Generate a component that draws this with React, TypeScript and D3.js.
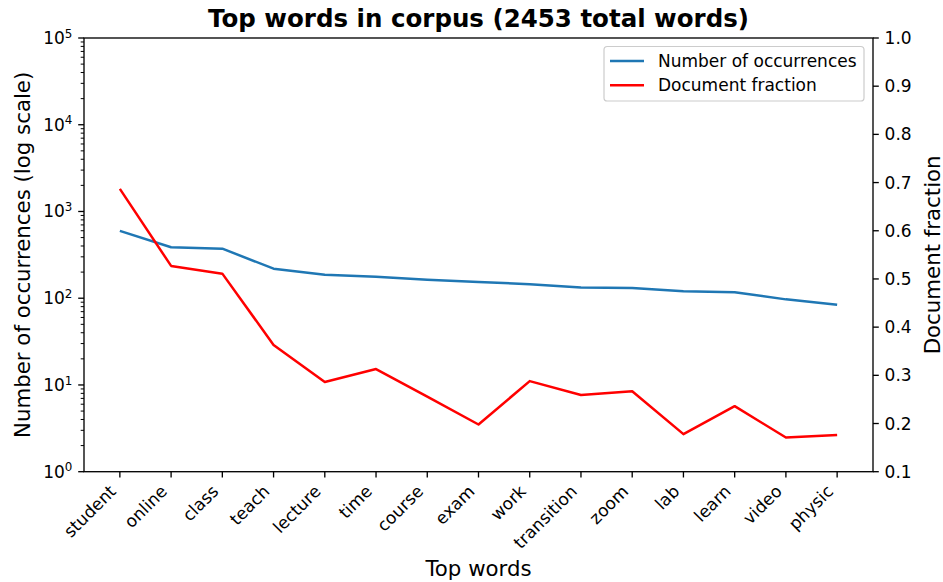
import React from "react";
import * as d3 from "d3";

// Top words and their statistics
const words = [
  "student", "online", "class", "teach", "lecture", "time", "course", "exam",
  "work", "transition", "zoom", "lab", "learn", "video", "physic",
];
const occurrences = [597, 387, 373, 219, 187, 177, 163, 154, 145, 133, 131, 120, 117, 97, 84];
const docFraction = [
  0.687, 0.527, 0.511, 0.363, 0.286, 0.313, 0.256, 0.198, 0.288, 0.259, 0.267,
  0.178, 0.236, 0.171, 0.176,
];
const logExponents = [0, 1, 2, 3, 4, 5];
const fractionTicks = [0.1, 0.2, 0.3, 0.4, 0.5, 0.6, 0.7, 0.8, 0.9, 1.0];
const totalWords = 2453;

const W = 943;
const H = 582;
const L = 84;
const R = 873;
const T = 38;
const B = 471.7;

const FONT = "'DejaVu Sans', sans-serif";
const TICK_FS = 17;
const LABEL_FS = 21.3;
const TITLE_FS = 24.5;
const TICK_LEN = 5.8;
const TICK_PAD = 5.8;
const BLUE = "#1f77b4";
const RED = "#ff0000";

export default function App() {
  const x = d3.scaleLinear().domain([-0.7, words.length - 1 + 0.7]).range([L, R]);
  const yLog = d3.scaleLog().domain([1, 1e5]).range([B, T]);
  const yFrac = d3.scaleLinear().domain([0.1, 1.0]).range([B, T]);

  const occLine = d3
    .line<number>()
    .x((_, i) => x(i))
    .y((d) => yLog(d));
  const fracLine = d3
    .line<number>()
    .x((_, i) => x(i))
    .y((d) => yFrac(d));

  const minorTicks: number[] = [];
  for (let e = 0; e < 5; e++) {
    for (let k = 2; k <= 9; k++) minorTicks.push(k * Math.pow(10, e));
  }

  // rotated category labels: anchor so the rotated bbox's top-right sits under the tick
  const asc = 0.76 * TICK_FS;
  const desc = 0.236 * TICK_FS;
  const labelY = B + TICK_LEN + TICK_PAD + 0.7071 * asc;
  const midY = (T + B) / 2;

  return (
    <svg
      width={W}
      height={H}
      style={{ position: "absolute", left: 0, top: 0, background: "#fff" }}
      fontFamily={FONT}
    >
      <rect x={0} y={0} width={W} height={H} fill="#fff" />

      {/* title */}
      <text
        x={(L + R) / 2}
        y={27}
        textAnchor="middle"
        fontSize={TITLE_FS}
        fontWeight="bold"
        fill="#000"
      >
        {`Top words in corpus (${totalWords} total words)`}
      </text>

      {/* series */}
      <path d={occLine(occurrences) || ""} fill="none" stroke={BLUE} strokeWidth={2.5} strokeLinejoin="round" />
      <path d={fracLine(docFraction) || ""} fill="none" stroke={RED} strokeWidth={2.5} strokeLinejoin="round" />

      {/* spines */}
      <rect x={L} y={T} width={R - L} height={B - T} fill="none" stroke="#000" strokeWidth={1.33} />

      {/* x ticks */}
      {words.map((w, i) => {
        const px = x(i);
        const ax = px - 0.7071 * desc;
        return (
          <g key={w}>
            <line x1={px} x2={px} y1={B} y2={B + TICK_LEN} stroke="#000" strokeWidth={1.33} />
            <text
              x={ax}
              y={labelY}
              textAnchor="end"
              fontSize={TICK_FS}
              transform={`rotate(-45 ${ax} ${labelY})`}
              fill="#000"
            >
              {w}
            </text>
          </g>
        );
      })}

      {/* left log axis */}
      {logExponents.map((e) => {
        const py = yLog(Math.pow(10, e));
        return (
          <g key={`l${e}`}>
            <line x1={L - TICK_LEN} x2={L} y1={py} y2={py} stroke="#000" strokeWidth={1.33} />
            <text x={L - TICK_LEN - TICK_PAD} y={py + 5.9} textAnchor="end" fontSize={TICK_FS} fill="#000">
              10
              <tspan fontSize={11.9} dy={-6.3}>
                {e}
              </tspan>
            </text>
          </g>
        );
      })}
      {minorTicks.map((v) => (
        <line
          key={`m${v}`}
          x1={L - 3.3}
          x2={L}
          y1={yLog(v)}
          y2={yLog(v)}
          stroke="#000"
          strokeWidth={1}
        />
      ))}

      {/* right fraction axis */}
      {fractionTicks.map((v) => {
        const py = yFrac(v);
        return (
          <g key={`r${v}`}>
            <line x1={R} x2={R + TICK_LEN} y1={py} y2={py} stroke="#000" strokeWidth={1.33} />
            <text x={R + TICK_LEN + TICK_PAD} y={py + 6.1} textAnchor="start" fontSize={TICK_FS} fill="#000">
              {v.toFixed(1)}
            </text>
          </g>
        );
      })}

      {/* axis labels */}
      <text x={(L + R) / 2} y={576} textAnchor="middle" fontSize={LABEL_FS} fill="#000">
        Top words
      </text>
      <text
        x={30}
        y={midY}
        textAnchor="middle"
        fontSize={LABEL_FS}
        transform={`rotate(-90 30 ${midY})`}
        fill="#000"
      >
        Number of occurrences (log scale)
      </text>
      <text
        x={940}
        y={midY}
        textAnchor="middle"
        fontSize={LABEL_FS}
        transform={`rotate(-90 940 ${midY})`}
        fill="#000"
      >
        Document fraction
      </text>

      {/* legend */}
      <g>
        <rect
          x={604}
          y={46.5}
          width={260}
          height={54.5}
          rx={3.3}
          ry={3.3}
          fill="#fff"
          fillOpacity={0.8}
          stroke="#cccccc"
          strokeWidth={1.2}
        />
        <line x1={610} x2={644} y1={61} y2={61} stroke={BLUE} strokeWidth={2.5} />
        <text x={658} y={67} fontSize={TICK_FS} fill="#000">
          Number of occurrences
        </text>
        <line x1={610} x2={644} y1={85.3} y2={85.3} stroke={RED} strokeWidth={2.5} />
        <text x={658} y={91.3} fontSize={TICK_FS} fill="#000">
          Document fraction
        </text>
      </g>
    </svg>
  );
}
